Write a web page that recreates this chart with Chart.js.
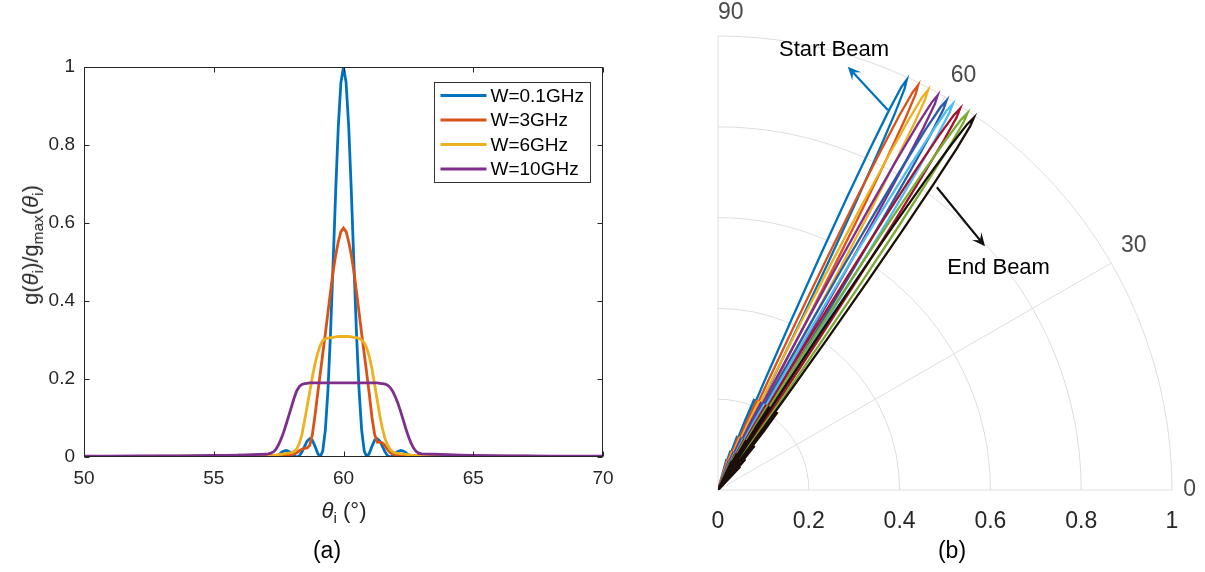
<!DOCTYPE html>
<html>
<head>
<meta charset="utf-8">
<script src="https://cdn.jsdelivr.net/npm/chart.js@4.4.1/dist/chart.umd.min.js"></script>
<style>
  body { margin:0; background:#fff; font-family:"Liberation Sans", Arial, sans-serif; }
  #wrap { position:relative; width:1205px; height:572px; overflow:hidden; background:#fff; }
  canvas { position:absolute; top:0; }
  #chartA { left:0; }
  #chartB { left:600px; }
  .lbl { position:absolute; white-space:nowrap; color:#262626; transform:translate(-50%,-50%); line-height:1; }
  sub { font-size:0.7em; vertical-align:-0.35em; line-height:0; }
</style>
</head>
<body>
<div id="wrap">
  <canvas id="chartA" width="640" height="572"></canvas>
  <canvas id="chartB" width="605" height="572"></canvas>
  <div class="lbl" style="left:31px;top:245px;font-size:22px;transform:translate(-50%,-50%) rotate(-90deg)">g(<i>θ</i><sub>i</sub>)/g<sub>max</sub>(<i>θ</i><sub>i</sub>)</div>
  <div class="lbl" style="left:344px;top:511px;font-size:22px"><i>θ</i><sub>i</sub> (°)</div>
  <div class="lbl" style="left:327px;top:550px;font-size:23px;color:#000">(a)</div>
  <div class="lbl" style="left:952px;top:550px;font-size:23px;color:#000">(b)</div>
</div>
<script>
// ---- panel (a): normalised gain vs incidence angle ----
const thetaDeg = [50,51,52,53,54,55,55.5,56,56.5,
  57,57.1,57.2,57.3,57.4,57.5,57.6,57.7,57.8,57.9,
  58,58.1,58.2,58.3,58.4,58.5,58.6,58.7,58.8,58.9,
  59,59.1,59.2,59.3,59.4,59.5,59.6,59.7,59.8,59.9,
  60,60.1,60.2,60.3,60.4,60.5,60.6,60.7,60.8,60.9,
  61,61.1,61.2,61.3,61.4,61.5,61.6,61.7,61.8,61.9,
  62,62.1,62.2,62.3,62.4,62.5,62.6,62.7,62.8,62.9,
  63,63.5,64,64.5,65,66,67,68,69,70];

const gW01 = [0,0,0,.001,.002,.003,0,.005,.001,
  .007,.005,.002,0,.001,.005,.011,.015,.017,.014,
  .009,.003,0,.003,.013,.027,.041,.047,.043,.028,
  .010,0,.015,.069,.171,.318,.497,.684,.848,.960,
  1,.960,.848,.684,.497,.318,.171,.069,.015,0,
  .010,.028,.043,.047,.041,.027,.013,.003,0,.003,
  .009,.014,.017,.015,.011,.005,.001,0,.002,.005,
  .007,.001,.005,0,.003,.002,.001,0,0,0];

const gW3 = [.001,.001,.001,.002,.002,.002,.003,.003,.003,
  .003,.003,.003,.003,.004,.004,.004,.005,.006,.006,
  .006,.008,.011,.016,.020,.022,.023,.030,.058,.105,
  .160,.212,.264,.316,.370,.424,.476,.518,.552,.578,
  .587,.578,.552,.518,.476,.424,.370,.316,.264,.212,
  .158,.100,.058,.038,.038,.036,.029,.019,.011,.007,
  .005,.005,.005,.005,.004,.004,.004,.003,.003,.003,
  .003,.003,.003,.002,.002,.002,.002,.001,.001,.001];

const gW6 = [.001,.001,.001,.001,.002,.002,.002,.003,.003,
  .003,.003,.004,.004,.005,.006,.007,.008,.009,.010,
  .011,.014,.021,.035,.058,.093,.130,.168,.205,.238,
  .265,.286,.298,.303,.305,.306,.307,.308,.309,.309,
  .309,.309,.309,.308,.307,.306,.304,.300,.293,.279,
  .256,.225,.186,.146,.106,.073,.047,.030,.019,.013,
  .010,.009,.008,.008,.007,.006,.005,.004,.004,.003,
  .003,.002,.002,.002,.001,.001,.001,.001,.001,.001];

const gW10 = [.002,.002,.003,.003,.003,.004,.004,.005,.006,
  .007,.008,.010,.013,.020,.032,.047,.065,.086,.108,
  .130,.152,.170,.181,.186,.188,.189,.190,.190,.190,
  .190,.190,.190,.190,.190,.190,.190,.190,.190,.190,
  .190,.190,.190,.190,.190,.190,.190,.190,.190,.190,
  .190,.190,.190,.190,.189,.188,.187,.184,.178,.168,
  .154,.137,.117,.095,.073,.053,.036,.023,.014,.010,
  .008,.007,.006,.005,.004,.003,.003,.002,.002,.002];

const seriesLabels = ['W=0.1GHz','W=3GHz','W=6GHz','W=10GHz'];
const seriesColors = ['#0072BD','#D95319','#EDB120','#7E2F8E'];
const seriesValues = [gW01, gW3, gW6, gW10];
const yTickLabelsA = ['0','0.2','0.4','0.6','0.8','1'];

// ---- panel (b): beam patterns in polar form ----
const beamPeakDeg  = [65.3, 63.7, 62.3, 60.9, 59.6, 58.7, 57.6, 56.5, 55.5];
const beamPeakGain = [0.995, 0.995, 0.995, 0.995, 0.995, 0.995, 0.995, 0.995, 0.995];
const beamColors   = ['#0072BD','#D95319','#EDB120','#7E2F8E','#2A5CAA','#4DBEEE','#A2142F','#77AC30','#1A0F0A'];
const lobeOffsetDeg = [-10.25,-9.23,-8.2,-7.7,-7.18,-6.67,-6.15,-5.7,-5.13,-4.56,-4.1,-3.76,-3.42,-2.96,-2.5,-2.05,
  -1.82,-1.6,-1.37,-1.14,-0.91,-0.68,-0.46,-0.23,0,0.23,0.46,0.68,0.91,1.14,1.37,1.6,1.82,
  2.05,2.5,2.96,3.42,3.76,4.1,4.56,5.13,5.7,6.15,6.67,7.18,7.7,8.2,9.23,10.25];
const lobeGain = [0,.071,0,.06,.091,.069,0,.074,.127,.092,0,.087,.165,.217,.167,0,
  .123,.263,.413,.564,.705,.827,.921,.98,1,.98,.921,.827,.705,.564,.413,.263,.123,
  0,.167,.217,.165,.087,0,.092,.127,.074,0,.069,.091,.06,0,.071,0];
const radialTickLabels = ['0','0.2','0.4','0.6','0.8','1'];
const gridRadii = [0.2, 0.4, 0.6, 0.8, 1];
const thetaTicks = [0, 30, 60, 90];
const thetaTickLabels = ['0','30','60','90'];

const FONT = '"Liberation Sans", Arial, sans-serif';
const axisInk = '#262626';

// box, inward ticks and legend for panel (a)
const boxPlugin = {
  id: 'boxTicks',
  afterDraw(chart) {
    const {ctx, chartArea: a, scales: {x, y}} = chart;
    const L = Math.round(a.left) + 0.5, R = Math.round(a.right) - 0.5;
    const T = Math.round(a.top) + 0.5, B = Math.round(a.bottom) - 0.5;
    ctx.save();
    ctx.strokeStyle = axisInk;
    ctx.lineWidth = 1;
    ctx.strokeRect(L, T, R - L, B - T);
    ctx.beginPath();
    x.ticks.forEach(t => {
      const px = Math.round(x.getPixelForValue(t.value)) + 0.5;
      ctx.moveTo(px, B); ctx.lineTo(px, B - 5);
      ctx.moveTo(px, T); ctx.lineTo(px, T + 5);
    });
    y.ticks.forEach(t => {
      const py = Math.round(y.getPixelForValue(t.value)) + 0.5;
      ctx.moveTo(L, py); ctx.lineTo(L + 5, py);
      ctx.moveTo(R, py); ctx.lineTo(R - 5, py);
    });
    ctx.stroke();

    // legend
    const bw = 156, bh = 100, bx = Math.round(a.right) - 13 - bw + 0.5, by = Math.round(a.top) + 15 + 0.5;
    ctx.fillStyle = '#fff';
    ctx.fillRect(bx, by, bw, bh);
    ctx.strokeStyle = '#333';
    ctx.strokeRect(bx, by, bw, bh);
    ctx.font = '19px ' + FONT;
    ctx.textBaseline = 'middle';
    ctx.textAlign = 'left';
    chart.data.datasets.forEach((ds, i) => {
      const ry = by + 13 + i * 24.5;
      ctx.strokeStyle = ds.borderColor;
      ctx.lineWidth = 2.8;
      ctx.beginPath(); ctx.moveTo(bx + 6, ry); ctx.lineTo(bx + 52, ry); ctx.stroke();
      ctx.fillStyle = '#000';
      ctx.fillText(ds.label, bx + 56, ry + 1);
    });
    ctx.restore();
  }
};

new Chart(document.getElementById('chartA'), {
  type: 'line',
  data: {
    datasets: seriesValues.map((vals, i) => ({
      label: seriesLabels[i],
      data: thetaDeg.map((t, k) => ({x: t, y: vals[k]})),
      borderColor: seriesColors[i],
      backgroundColor: seriesColors[i],
      borderWidth: 2.8,
      pointRadius: 0,
      tension: 0,
      fill: false,
      order: seriesValues.length - i
    }))
  },
  options: {
    responsive: false,
    animation: false,
    events: [],
    layout: {padding: {left: 40, right: 37, top: 67, bottom: 75}},
    plugins: {legend: {display: false}, tooltip: {enabled: false}},
    scales: {
      x: {
        type: 'linear', min: 50, max: 70,
        ticks: {stepSize: 5, color: axisInk, font: {size: 19, family: FONT}, padding: 10, maxRotation: 0},
        grid: {display: false, drawTicks: false},
        border: {display: false},
        afterFit(s) { s.height = 40; }
      },
      y: {
        type: 'linear', min: 0, max: 1,
        ticks: {stepSize: 0.2, color: axisInk, font: {size: 19, family: FONT}, padding: 9,
                callback: (v, i) => yTickLabelsA[i]},
        grid: {display: false, drawTicks: false},
        border: {display: false},
        afterFit(s) { s.width = 44; }
      }
    }
  },
  plugins: [boxPlugin]
});

// polar grid, angle labels
const polarGrid = {
  id: 'polarGrid',
  beforeDatasetsDraw(chart) {
    const {ctx, scales: {x, y}} = chart;
    const cx = x.getPixelForValue(0), cy = y.getPixelForValue(0);
    ctx.save();
    ctx.strokeStyle = '#dedede';
    ctx.lineWidth = 1;
    gridRadii.forEach(r => {
      const rad = x.getPixelForValue(r) - cx;
      ctx.beginPath(); ctx.arc(cx, cy, rad, -Math.PI / 2, 0); ctx.stroke();
    });
    thetaTicks.forEach(t => {
      const th = t * Math.PI / 180;
      ctx.beginPath();
      ctx.moveTo(cx, cy);
      ctx.lineTo(x.getPixelForValue(Math.cos(th)), y.getPixelForValue(Math.sin(th)));
      ctx.stroke();
    });
    ctx.fillStyle = '#4a4a4a';
    ctx.font = '23px ' + FONT;
    ctx.textAlign = 'left';
    thetaTicks.forEach((t, i) => {
      const th = t * Math.PI / 180;
      ctx.textBaseline = t === 0 ? 'middle' : 'bottom';
      const rr = t === 90 ? 1.03 : 1.025;
      ctx.fillText(thetaTickLabels[i], x.getPixelForValue(rr * Math.cos(th)), y.getPixelForValue(rr * Math.sin(th)) + (t === 90 ? 2 : 0));
    });
    ctx.restore();
  }
};

const beamNotes = [
  {text: 'Start Beam', at: [0.2555, 0.969], from: [0.374, 0.837], to: [0.286, 0.932], color: '#0072BD'},
  {text: 'End Beam', at: [0.618, 0.489], from: [0.482, 0.667], to: [0.588, 0.537], color: '#111'}
];

const notesPlugin = {
  id: 'beamNotes',
  afterDatasetsDraw(chart) {
    const {ctx, scales: {x, y}} = chart;
    ctx.save();
    beamNotes.forEach(n => {
      const x0 = x.getPixelForValue(n.from[0]), y0 = y.getPixelForValue(n.from[1]);
      const x1 = x.getPixelForValue(n.to[0]), y1 = y.getPixelForValue(n.to[1]);
      const ang = Math.atan2(y1 - y0, x1 - x0);
      ctx.strokeStyle = n.color; ctx.fillStyle = n.color; ctx.lineWidth = 2.2;
      ctx.beginPath(); ctx.moveTo(x0, y0); ctx.lineTo(x1 - 4 * Math.cos(ang), y1 - 4 * Math.sin(ang)); ctx.stroke();
      const hl = 13, hw = 6;
      const bx = x1 - hl * Math.cos(ang), by = y1 - hl * Math.sin(ang);
      const nx = -Math.sin(ang), ny = Math.cos(ang);
      ctx.beginPath();
      ctx.moveTo(x1, y1);
      ctx.lineTo(bx + hw * nx, by + hw * ny);
      ctx.lineTo(x1 - 0.6 * hl * Math.cos(ang), y1 - 0.6 * hl * Math.sin(ang));
      ctx.lineTo(bx - hw * nx, by - hw * ny);
      ctx.closePath();
      ctx.fill();
      ctx.fillStyle = '#000';
      ctx.font = '22px ' + FONT;
      ctx.textAlign = 'center';
      ctx.textBaseline = 'middle';
      ctx.fillText(n.text, x.getPixelForValue(n.at[0]), y.getPixelForValue(n.at[1]));
    });
    ctx.restore();
  }
};

new Chart(document.getElementById('chartB'), {
  type: 'scatter',
  data: {
    datasets: beamPeakDeg.map((peak, b) => ({
      label: 'beam ' + (b + 1),
      data: lobeOffsetDeg.map((off, k) => {
        const th = (peak + off) * Math.PI / 180;
        const r = beamPeakGain[b] * lobeGain[k];
        return {x: r * Math.cos(th), y: r * Math.sin(th)};
      }),
      borderColor: beamColors[b],
      backgroundColor: beamColors[b],
      borderWidth: 2.3,
      pointRadius: 0,
      showLine: true,
      tension: 0,
      order: beamPeakDeg.length - b
    }))
  },
  options: {
    responsive: false,
    animation: false,
    events: [],
    layout: {padding: {left: 118, right: 33, top: 36, bottom: 38}},
    plugins: {legend: {display: false}, tooltip: {enabled: false}},
    scales: {
      x: {
        type: 'linear', min: 0, max: 1,
        ticks: {stepSize: 0.2, color: axisInk, font: {size: 23, family: FONT}, padding: 18,
                callback: (v, i) => radialTickLabels[i]},
        grid: {display: false, drawTicks: false},
        border: {display: false},
        afterFit(s) { s.height = 44; }
      },
      y: {type: 'linear', min: 0, max: 1, display: false}
    }
  },
  plugins: [polarGrid, notesPlugin]
});
</script>
</body>
</html>
